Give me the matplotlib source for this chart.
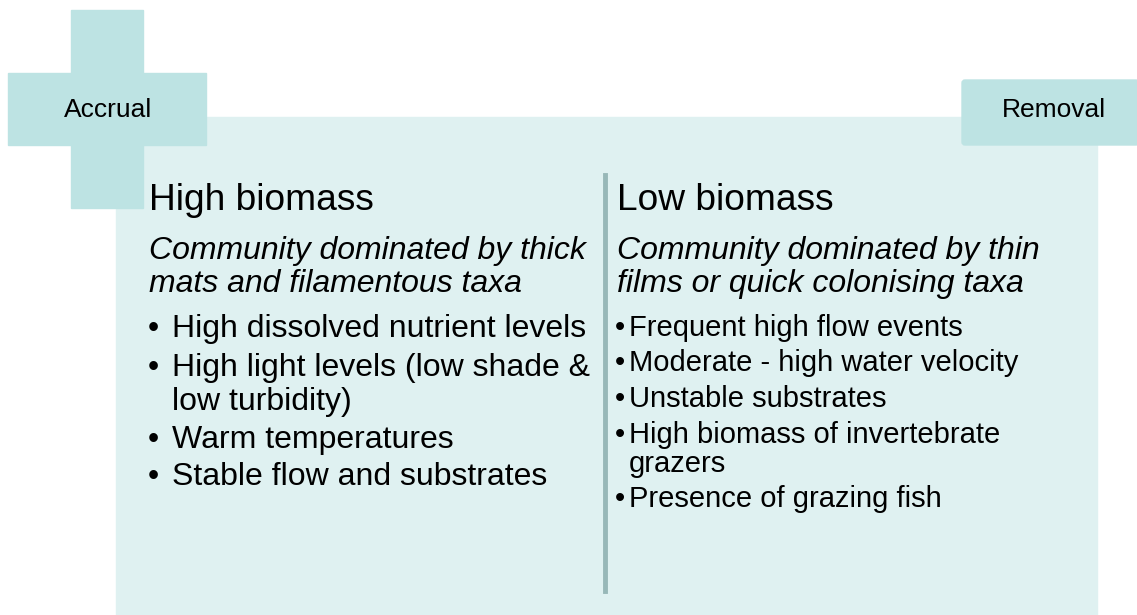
import matplotlib.pyplot as plt
from matplotlib.patches import Rectangle, FancyBboxPatch

plt.rcParams['font.family'] = ['Liberation Sans', 'DejaVu Sans']

# text content
left_title = "High biomass"
left_sub = ["Community dominated by thick", "mats and filamentous taxa"]
left_items = [["High dissolved nutrient levels"],
              ["High light levels (low shade &", "low turbidity)"],
              ["Warm temperatures"],
              ["Stable flow and substrates"]]
right_title = "Low biomass"
right_sub = ["Community dominated by thin", "films or quick colonising taxa"]
right_items = [["Frequent high flow events"],
               ["Moderate - high water velocity"],
               ["Unstable substrates"],
               ["High biomass of invertebrate", "grazers"],
               ["Presence of grazing fish"]]
tag_left = "Accrual"
tag_right = "Removal"

light = "#dff1f1"
mid = "#bde3e3"
dark = "#97b8b8"

fig = plt.figure(figsize=(11.37, 6.15), dpi=100)
ax = fig.add_axes([0, 0, 1, 1])
ax.set_xlim(0, 1137)
ax.set_ylim(615, 0)
ax.axis("off")

# main panel
ax.add_patch(Rectangle((116, 117), 981, 498, color=light, zorder=1))
# cross
ax.add_patch(Rectangle((71, 10), 72, 198, color=mid, zorder=2))
ax.add_patch(Rectangle((8, 73), 198, 72, color=mid, zorder=2))
ax.text(108, 110, tag_left, fontsize=19, ha="center", va="center", zorder=3)
# removal tag
ax.add_patch(FancyBboxPatch((962, 80), 177, 65, boxstyle="round,pad=0,rounding_size=3",
                            color=mid, zorder=2))
ax.text(1054, 110, tag_right, fontsize=19, ha="center", va="center", zorder=3)

# divider
ax.plot([605, 605], [175, 591], color=dark, lw=3.5, zorder=3)


def column(x, title, sub, items, bullet_x, text_x, starts, wrap_gap, size):
    ax.text(x, 200, title, fontsize=26.7, va="center", zorder=4)
    ax.text(x, 251, sub[0], fontsize=23, style="italic", va="center", zorder=4)
    ax.text(x, 284, sub[1], fontsize=23, style="italic", va="center", zorder=4)
    for y, lines in zip(starts, items):
        ax.text(bullet_x, y, "\u2022", fontsize=size, va="center", zorder=4)
        for i, s in enumerate(lines):
            ax.text(text_x, y + i * wrap_gap, s, fontsize=size, va="center", zorder=4)


column(149, left_title, left_sub, left_items, 148, 172, [329, 368, 440, 477], 34, 23)
column(617, right_title, right_sub, right_items, 615, 629, [328, 363, 399, 435, 499], 29, 21)

fig.savefig("out.png", dpi=100)
